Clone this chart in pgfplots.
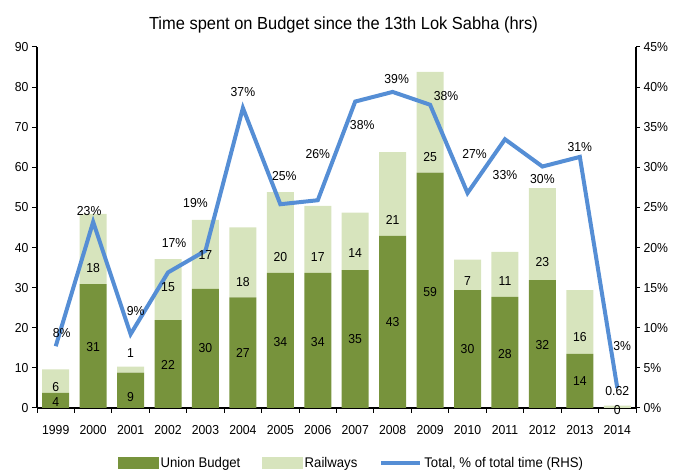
\documentclass[border=0pt]{standalone}
\usepackage{fontspec}
\setmainfont{Liberation Sans}[FakeStretch=0.94]
\usepackage{pgfplots}
\usepackage{pgfplotstable}
\pgfplotsset{compat=1.18}

\definecolor{union}{HTML}{77933C}
\definecolor{rail}{HTML}{D7E4BD}
\definecolor{share}{HTML}{558ED5}

% hours (x = 0 is 1999); ylab = where the printed value sits, in hours
\pgfplotstableread{
x  y     ylab  lab
0  3.8   1.6   4
1  30.9  15.1  31
2  8.8   2.8   9
3  21.9  10.7  22
4  29.7  14.9  30
5  27.6  13.6  27
6  33.7  16.5  34
7  33.7  16.5  34
8  34.4  17.2  35
9  42.9  21.5  43
10 58.7  29.0  59
11 29.4  14.7  30
12 27.7  13.5  28
13 31.9  15.7  32
14 13.5  6.6   14
15 0     -0.5  0
}\tabunion
\pgfplotstableread{
x  y     ylab  lab
0  5.8   5.3   6
1  17.5  34.8  18
2  1.5   13.8  1
3  15.2  30.1  15
4  17.2  38.1  17
5  17.4  31.5  18
6  20.1  37.7  20
7  16.7  37.7  17
8  14.3  38.7  14
9  20.9  46.9  21
10 25.1  62.5  25
11 7.6   31.7  7
12 11.2  31.7  11
13 22.9  36.3  23
14 15.9  17.8  16
15 0.62  4.2   0.62
}\tabrail
% share of total time (%), label offsets in pt
\pgfplotstableread{
x  y     lab  dx   dy
0  7.7   8    6    13
1  23.2  23   -4   11
2  9.2   9    5    23
3  16.9  17   6    29
4  19.6  19   -10  48
5  37.4  37   0    16
6  25.4  25   4    28
7  25.9  26   0    46
8  38.2  38   7    -23
9  39.4  39   4    13
10 37.8  38   16   9
11 26.8  27   7    39
12 33.5  33   0    -36
13 30.1  30   0    -12
14 31.3  31   0    10
15 2.5   3    5    42
}\tabshare

\pgfplotsset{
  base/.style={
    at={(37pt,63pt)}, anchor=south west,
    width=599pt, height=361pt, scale only axis,
    xmin=-0.5, xmax=15.5,
    tick align=outside, major tick length=4pt,
    axis line style={line width=1.6pt, black},
    tick style={line width=1pt, black},
    tick label style={font=\fontsize{13}{15}\selectfont},
    /pgf/number format/assume math mode=true,
    clip=false,
  },
  seglabels/.style={
    draw=none, mark=none,
    point meta=explicit symbolic,
    nodes near coords,
    every node near coord/.append style={anchor=center, black,
      font=\fontsize{13}{15}\selectfont, inner sep=0pt},
  },
}

\begin{document}
\begin{tikzpicture}
\useasboundingbox (0,0) rectangle (675pt,471pt);
\begin{axis}[
  base,
  ybar stacked, bar width=27pt,
  ymin=0, ymax=90,
  axis x line*=bottom, axis y line*=left,
  xtick={-0.5,0.5,...,15.5}, xticklabels={},
  major tick length=5pt,
  extra x ticks={0,...,15},
  extra x tick labels={1999,2000,2001,2002,2003,2004,2005,2006,2007,2008,2009,2010,2011,2012,2013,2014},
  extra x tick style={tick style={draw=none}},
  x tick label style={yshift=-9pt},
  ytick={0,10,...,90},
]
\addplot[fill=union, draw=none] table[x=x, y=y] {\tabunion};
\addplot[fill=rail, draw=none] table[x=x, y=y] {\tabrail};
\end{axis}

\begin{axis}[
  base,
  ymin=0, ymax=45,
  axis y line*=right, axis x line=none,
  ytick={0,5,...,45},
  yticklabel={\pgfmathprintnumber{\tick}\%},
  legend columns=3,
  legend style={at={(axis description cs:0.1352,0)}, anchor=west, yshift=-55pt,
    draw=none, fill=none, inner sep=0pt, font=\fontsize{14}{16}\selectfont,
    /tikz/every even column/.append style={column sep=20pt}},
]
\addlegendimage{legend image code/.code={\fill[union] (0pt,-5.5pt) rectangle (40pt,5.5pt);}}
\addlegendentry{Union Budget}
\addlegendimage{legend image code/.code={\fill[rail] (0pt,-5.5pt) rectangle (40pt,5.5pt);}}
\addlegendentry{Railways}
\addlegendimage{legend image code/.code={\draw[share, line width=4pt] (0pt,0pt) -- (39pt,0pt);}}
\addlegendentry{Total, \% of total time (RHS)}
\addplot[share, line width=4pt, mark=none, forget plot,
  point meta=explicit symbolic,
  nodes near coords={\pgfplotspointmeta\%},
  visualization depends on={\thisrow{dx} \as \dx},
  visualization depends on={\thisrow{dy} \as \dy},
  every node near coord/.append style={anchor=center, black, inner sep=0pt,
    font=\fontsize{13}{15}\selectfont, xshift=\dx pt, yshift=\dy pt},
] table[x=x, y=y, meta=lab] {\tabshare};
\end{axis}

% value labels of the bar segments
\begin{axis}[base, ymin=0, ymax=90, hide axis]
\addplot[seglabels] table[x=x, y=ylab, meta=lab] {\tabunion};
\addplot[seglabels] table[x=x, y=ylab, meta=lab] {\tabrail};
\end{axis}

\node[font=\fontsize{17.5}{20}\selectfont] at (343.5pt,446pt)
  {Time spent on Budget since the 13th Lok Sabha (hrs)};
\end{tikzpicture}
\end{document}
